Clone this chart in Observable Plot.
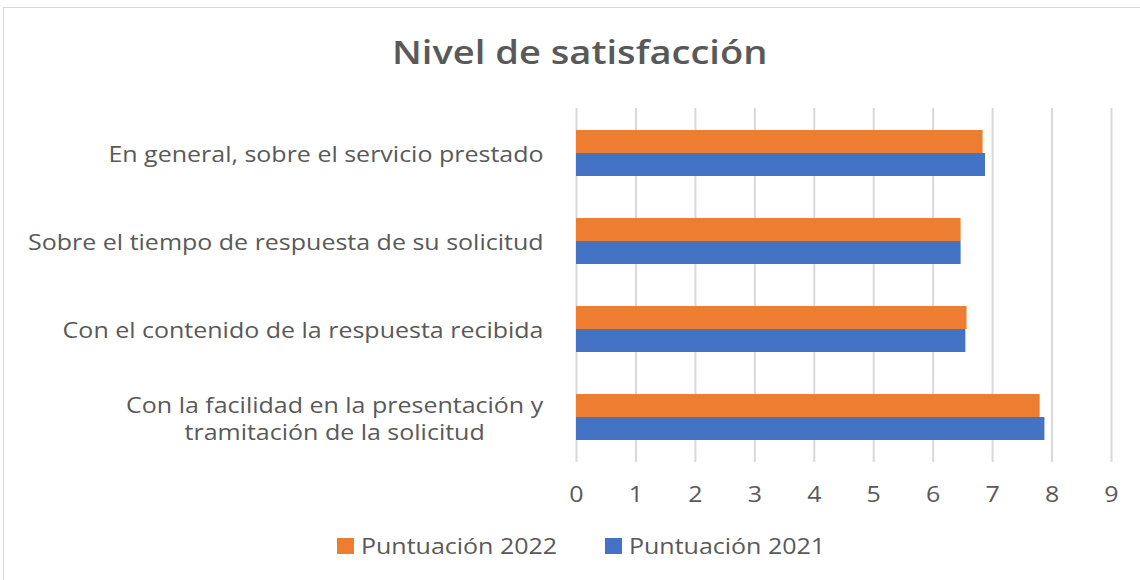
<!DOCTYPE html>
<html>
<head>
<meta charset="utf-8">
<script src="https://cdn.jsdelivr.net/npm/d3@7"></script>
<script src="https://cdn.jsdelivr.net/npm/@observablehq/plot@0.6"></script>
<style>
  html, body { margin: 0; padding: 0; background: #fff; }
  body { width: 1140px; height: 580px; overflow: hidden; position: relative; font-family: "Open Sans", sans-serif; }
  #frame { position: absolute; left: 3px; top: 7px; width: 1150px; height: 600px; border: 1px solid #d9d9d9; box-sizing: border-box; }
  #title { position: relative; height: 95px; box-sizing: border-box; padding-top: 36px; padding-left: 20px; text-align: center; font-size: 32px; font-weight: 600; color: #595959; line-height: 1; }
  #title span { display: inline-block; transform: scaleX(1.19); }
  #legend { position: relative; display: flex; justify-content: center; gap: 48px; padding-left: 22px; margin-top: 17px; font-size: 21px; color: #595959; }
  .item { display: flex; align-items: center; gap: 7px; }
  .sw { width: 17px; height: 16px; display: inline-block; }
  .lt { display: inline-block; transform-origin: left center; transform: scaleX(1.19); white-space: nowrap; }
</style>
</head>
<body>
<div id="frame"></div>
<div id="title"><span>Nivel de satisfacción</span></div>
<div id="plot"></div>
<div id="legend"></div>
<script>
const categories = [
  "En general, sobre el servicio prestado",
  "Sobre el tiempo de respuesta de su solicitud",
  "Con el contenido de la respuesta recibida",
  "Con la facilidad en la presentación y tramitación de la solicitud"
];
const labels = [
  "En general, sobre el servicio prestado",
  "Sobre el tiempo de respuesta de su solicitud",
  "Con el contenido de la respuesta recibida",
  "Con la facilidad en la presentación y\ntramitación de la solicitud"
];
const series = ["Puntuación 2022", "Puntuación 2021"];
const p2022 = [6.84, 6.47, 6.57, 7.80];
const p2021 = [6.88, 6.47, 6.55, 7.88];
const colors = ["#ED7D31", "#4472C4"];
const xTicks = [0,1,2,3,4,5,6,7,8,9];
const STRETCH = 1.19;

const rows2022 = categories.map((c, i) => ({cat: c, value: p2022[i]}));
const rows2021 = categories.map((c, i) => ({cat: c, value: p2021[i]}));
const labelOf = new Map(categories.map((c, i) => [c, labels[i]]));

const plot = Plot.plot({
  width: 1140,
  height: 420,
  marginLeft: 576,
  marginRight: 29,
  marginTop: 13,
  marginBottom: 53,
  style: {fontFamily: "Open Sans, sans-serif", fontSize: "21px", color: "#595959", background: "transparent"},
  x: {domain: [0, 9], ticks: xTicks},
  y: {domain: categories, paddingInner: 0.48, paddingOuter: 0.24},
  marks: [
    Plot.gridX(xTicks, {stroke: "#d9d9d9", strokeOpacity: 1, strokeWidth: 2}),
    Plot.barX(rows2022, {x: "value", y: "cat", fill: colors[0], insetBottom: 23}),
    Plot.barX(rows2021, {x: "value", y: "cat", fill: colors[1], insetTop: 23}),
    Plot.axisX(xTicks, {tickSize: 0, tickPadding: 25, fill: "#595959", fontSize: 21, label: null}),
    Plot.axisY({tickSize: 0, tickPadding: 33, fill: "#595959", fontSize: 21, label: null, tickFormat: d => labelOf.get(d), lineHeight: 1.3})
  ]
});
document.getElementById("plot").appendChild(plot);

// stretch text horizontally like the original, centre multi-line labels
plot.querySelectorAll("text").forEach(t => {
  const tspans = t.querySelectorAll("tspan");
  const tr = t.getAttribute("transform") || "";
  if (tspans.length > 1) {
    const bb = t.getBBox();
    t.setAttribute("text-anchor", "middle");
    t.setAttribute("transform", tr + ` translate(${-bb.width * STRETCH / 2},0) scale(${STRETCH},1)`);
  } else {
    t.setAttribute("transform", tr + ` scale(${STRETCH},1)`);
  }
});

const legend = document.getElementById("legend");
series.forEach((s, i) => {
  const it = document.createElement("div");
  it.className = "item";
  it.innerHTML = `<span class="sw" style="background:${colors[i]}"></span><span class="wrap"><span class="lt">${s}</span></span>`;
  legend.appendChild(it);
});
legend.querySelectorAll(".wrap").forEach(w => {
  const inner = w.querySelector(".lt");
  w.style.display = "inline-block";
  w.style.width = (inner.getBoundingClientRect().width) + "px";
});
</script>
</body>
</html>
